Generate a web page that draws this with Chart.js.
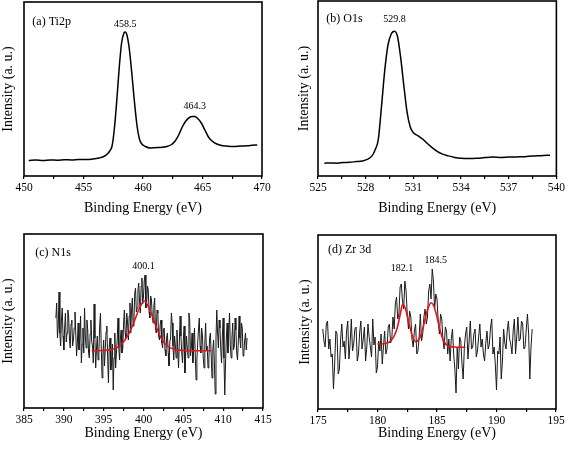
<!DOCTYPE html>
<html>
<head>
<meta charset="utf-8">
<script src="https://cdn.jsdelivr.net/npm/chart.js@4.4.0/dist/chart.umd.min.js"></script>
<style>
  html, body { margin: 0; padding: 0; background: #fff; }
  #wrap { position: relative; width: 567px; height: 450px; }
  #wrap canvas { position: absolute; }
</style>
</head>
<body>
<div id="wrap">
  <canvas id="chartA" width="283" height="225" style="left:0;top:0"></canvas>
  <canvas id="chartB" width="284" height="225" style="left:283px;top:0"></canvas>
  <canvas id="chartC" width="283" height="225" style="left:0;top:225px"></canvas>
  <canvas id="chartD" width="284" height="225" style="left:283px;top:225px"></canvas>
</div>
<script>
// (a) Ti2p spectrum
const tiEnergy = [450.4, 451.0, 451.6, 452.2, 452.8, 453.4, 454.0, 454.6, 455.2, 455.8, 456.3, 456.7, 457.0, 457.2, 457.4, 457.6, 457.8, 458.0, 458.2, 458.4, 458.5, 458.65, 458.85, 459.05, 459.25, 459.5, 459.7, 459.9, 460.2, 460.6, 461.0, 461.5, 462.0, 462.4, 462.7, 463.0, 463.3, 463.6, 463.9, 464.15, 464.35, 464.6, 464.9, 465.2, 465.5, 465.8, 466.2, 466.6, 467.0, 467.6, 468.2, 468.8, 469.2, 469.6];
const tiIntensity = [15.5, 16, 15.6, 16.1, 15.8, 16.3, 16, 16.5, 16.4, 17, 18, 19.5, 22, 25, 30, 48, 76, 108, 133, 143, 144, 141, 127, 104, 78, 50, 37, 32, 29.5, 28, 28.3, 28.6, 29.5, 31.5, 35, 41, 49, 55, 58.5, 59.5, 59.5, 57.5, 53, 46, 39, 35, 32, 30.5, 30, 29.5, 30, 30.3, 30.8, 31];

// (b) O1s spectrum
const oEnergy = [525.4, 525.8, 526.2, 526.6, 527.0, 527.4, 527.8, 528.1, 528.4, 528.6, 528.8, 529.0, 529.2, 529.4, 529.6, 529.8, 530.0, 530.2, 530.4, 530.6, 530.8, 531.0, 531.3, 531.6, 531.9, 532.2, 532.5, 532.8, 533.2, 533.6, 534.0, 534.5, 535.0, 535.5, 536.0, 536.5, 537.0, 537.5, 538.0, 538.5, 539.0, 539.6];
const oIntensity = [12.7, 13, 12.8, 13.4, 13.6, 14.3, 15, 16.5, 20, 26, 37, 70, 105, 130, 141, 144, 139, 118, 90, 64, 49, 43, 40, 36.5, 32, 28, 24.5, 22, 20, 18.5, 17.6, 17.3, 17.6, 18.3, 18.8, 18.5, 18.8, 19, 19.2, 19.8, 20.2, 20.7];

// (c) N1s raw data, 389.0 to 413.0 eV in 0.1 eV steps (one row per eV)
const nStart = 389.0, nStep = 0.1;
const nIntensity = [
  90, 105, 70, 82, 116, 75, 62, 88, 100, 72,
  58, 80, 95, 66, 75, 98, 92, 70, 60, 84,
  88, 62, 68, 80, 96, 74, 52, 66, 85, 58,
  70, 92, 45, 64, 80, 55, 100, 72, 60, 88,
  78, 56, 50, 74, 88, 66, 62, 45, 104, 70,
  40, 60, 72, 48, 55, 82, 95, 60, 30, 52,
  68, 42, 58, 76, 82, 50, 25, 62, 70, 38,
  45, 64, 18, 50, 75, 40, 55, 68, 90, 60,
  48, 70, 78, 55, 60, 85, 98, 75, 70, 95,
  85, 68, 92, 105, 75, 98, 110, 82, 88, 115,
  120, 96, 100, 118, 125, 108, 95, 122, 130, 104,
  112, 128, 133, 100, 105, 122, 118, 96, 90, 112,
  108, 92, 85, 102, 110, 80, 75, 98, 95, 72,
  68, 84, 88, 65, 60, 78, 80, 58, 52, 70,
  75, 55, 42, 66, 70, 95, 85, 62, 48, 72,
  62, 50, 78, 58, 40, 66, 92, 72, 55, 45,
  68, 82, 35, 55, 72, 60, 50, 95, 88, 52,
  60, 75, 45, 62, 80, 52, 28, 48, 65, 78,
  90, 62, 55, 80, 72, 50, 40, 66, 85, 58,
  62, 40, 48, 70, 75, 52, 30, 58, 68, 45,
  14, 70, 98, 75, 60, 88, 80, 58, 45, 72,
  90, 50, 13, 45, 70, 85, 55, 75, 95, 62,
  50, 70, 85, 58, 62, 90, 78, 55, 48, 66,
  92, 70, 60, 85, 80, 52, 55, 68, 75, 58,
  70];
// (c) N1s fitted peak
const nFitEnergy = [393.5, 395, 396, 397, 398, 398.5, 399, 399.5, 400.1, 400.7, 401.2, 401.7, 402.2, 403, 404, 405, 406, 408.5];
const nFitIntensity = [57.3, 57.5, 58.5, 62, 72, 80, 90, 100, 107, 100, 90, 79, 70, 62, 58.5, 57.5, 57.3, 57.3];

// (d) Zr 3d raw data, 175.4 to 193.0 eV in 0.1 eV steps
const zStart = 175.4, zStep = 0.1;
const zIntensity = [
  80, 68, 62, 85, 88, 60,
  70, 52, 55, 20, 45, 78, 75, 35, 40, 70,
  85, 62, 68, 50, 78, 88, 50, 66, 90, 58,
  65, 80, 82, 48, 55, 76, 88, 60, 70, 82,
  48, 62, 85, 72, 62, 52, 90, 64, 72, 36,
  42, 68, 58, 75, 45, 62, 78, 55, 60, 82,
  85, 66, 70, 92, 80, 105, 112, 90, 95, 122,
  125, 108, 100, 128, 118, 95, 80, 98, 92, 70,
  62, 78, 85, 55, 58, 72, 95, 68, 75, 92,
  100, 85, 92, 118, 125, 110, 140, 128, 100, 115,
  110, 88, 75, 95, 90, 70, 60, 82, 78, 55,
  70, 48, 70, 80, 55, 40, 16, 62, 40, 72,
  68, 45, 30, 62, 75, 82, 50, 68, 88, 60,
  62, 75, 80, 52, 58, 72, 85, 62, 70, 55,
  48, 66, 78, 60, 65, 82, 90, 55, 62, 45,
  19, 58, 55, 72, 30, 48, 80, 66, 60, 78,
  88, 70, 65, 55, 78, 90, 55, 72, 92, 68,
  70, 88, 85, 60, 62, 80, 95, 75, 30, 62,
  80];
// (d) Zr 3d fitted doublet
const zFitEnergy = [180.0, 180.5, 181.0, 181.4, 181.7, 182.0, 182.1, 182.3, 182.6, 182.9, 183.2, 183.5, 183.8, 184.1, 184.4, 184.5, 184.7, 185.0, 185.3, 185.6, 186.0, 186.5, 187.4];
const zFitIntensity = [65, 65.3, 67, 73, 83, 100, 104.7, 102, 88, 74, 67.3, 70, 80, 95, 105, 106.3, 104, 92, 77, 67, 63, 62, 61.7];

const serif = "'Liberation Serif', 'Times New Roman', serif";

function pairs(xs, ys) {
  return xs.map((x, i) => ({ x: x, y: ys[i] }));
}
function stepped(start, step, ys) {
  return ys.map((y, i) => ({ x: +(start + i * step).toFixed(2), y: y }));
}

// draws the closed frame and the in-plot labels
const framePlugin = {
  id: 'frame',
  afterDraw(chart, args, opts) {
    const { ctx, chartArea: a, scales } = chart;
    ctx.save();
    ctx.strokeStyle = '#000';
    ctx.lineWidth = 1.6;
    ctx.strokeRect(a.left, a.top, a.right - a.left, a.bottom - a.top);
    ctx.fillStyle = '#000';
    ctx.textBaseline = 'middle';
    (opts.labels || []).forEach(l => {
      ctx.font = l.size + 'px ' + serif;
      ctx.textAlign = l.align || 'center';
      ctx.fillText(l.text, scales.x.getPixelForValue(l.x), scales.y.getPixelForValue(l.y));
    });
    ctx.restore();
  }
};

function makePanel(id, cfg) {
  new Chart(document.getElementById(id), {
    type: 'line',
    data: { datasets: cfg.datasets },
    options: {
      responsive: false,
      animation: false,
      layout: { padding: { top: cfg.padTop, right: cfg.padRight, left: 0, bottom: 0 } },
      plugins: {
        legend: { display: false },
        tooltip: { enabled: false },
        frame: { labels: cfg.labels }
      },
      elements: { point: { radius: 0 } },
      scales: {
        x: {
          type: 'linear',
          min: cfg.xMin,
          max: cfg.xMax,
          afterFit: s => { s.height = cfg.xHeight; },
          ticks: {
            stepSize: cfg.minorStep,
            autoSkip: false,
            maxRotation: 0,
            padding: 2,
            color: '#000',
            font: { family: serif, size: 11.5 },
            callback: v => cfg.xLabels.includes(v) ? String(v) : ''
          },
          grid: { display: true, drawOnChartArea: false, drawTicks: true, tickLength: 3, color: '#000', lineWidth: 1.2 },
          border: { display: false },
          title: {
            display: true,
            text: 'Binding Energy (eV)',
            color: '#000',
            font: { family: serif, size: 14 },
            padding: { top: 0, bottom: 8 }
          }
        },
        y: {
          min: 0,
          max: 174,
          afterFit: s => { s.width = cfg.yWidth; },
          ticks: { display: false },
          grid: { display: false },
          border: { display: false },
          title: {
            display: true,
            text: 'Intensity (a. u.)',
            color: '#000',
            font: { family: serif, size: 14 },
            padding: { top: cfg.yTitlePad, bottom: 0 }
          }
        }
      }
    },
    plugins: [framePlugin]
  });
}

makePanel('chartA', {
  xMin: 450, xMax: 470, minorStep: 2.5, xLabels: [450, 455, 460, 465, 470],
  padTop: 2, padRight: 21, xHeight: 49, yWidth: 24, yTitlePad: 0,
  datasets: [{
    data: pairs(tiEnergy, tiIntensity),
    borderColor: '#000', borderWidth: 1.5, cubicInterpolationMode: 'monotone', fill: false
  }],
  labels: [
    { text: '(a) Ti2p', x: 450.7, y: 154, size: 12, align: 'left' },
    { text: '458.5', x: 458.5, y: 152, size: 10 },
    { text: '464.3', x: 464.35, y: 70, size: 10 }
  ]
});

makePanel('chartB', {
  xMin: 525, xMax: 540, minorStep: 1.5, xLabels: [525, 528, 531, 534, 537, 540],
  padTop: 1, padRight: 10, xHeight: 49, yWidth: 35, yTitlePad: 13,
  datasets: [{
    data: pairs(oEnergy, oIntensity),
    borderColor: '#000', borderWidth: 1.5, cubicInterpolationMode: 'monotone', fill: false
  }],
  labels: [
    { text: '(b) O1s', x: 525.52, y: 156, size: 12, align: 'left' },
    { text: '529.8', x: 529.81, y: 156, size: 10 }
  ]
});

makePanel('chartC', {
  xMin: 385, xMax: 415, minorStep: 2.5, xLabels: [385, 390, 395, 400, 405, 410, 415],
  padTop: 9, padRight: 20, xHeight: 42, yWidth: 24, yTitlePad: 0,
  datasets: [
    { data: pairs(nFitEnergy, nFitIntensity), borderColor: '#e3131b', borderWidth: 1.6, cubicInterpolationMode: 'monotone', fill: false, order: 0 },
    { data: stepped(nStart, nStep, nIntensity), borderColor: '#1a1a1a', borderWidth: 1, tension: 0, fill: false, order: 1 }
  ],
  labels: [
    { text: '(c) N1s', x: 386.4, y: 154.7, size: 12, align: 'left' },
    { text: '400.1', x: 400.0, y: 141.3, size: 10 }
  ]
});

makePanel('chartD', {
  xMin: 175, xMax: 195, minorStep: 2.5, xLabels: [175, 180, 185, 190, 195],
  padTop: 10, padRight: 11, xHeight: 41, yWidth: 35, yTitlePad: 13.6,
  datasets: [
    { data: pairs(zFitEnergy, zFitIntensity), borderColor: '#e3131b', borderWidth: 1.6, cubicInterpolationMode: 'monotone', fill: false, order: 0 },
    { data: stepped(zStart, zStep, zIntensity), borderColor: '#1a1a1a', borderWidth: 1, tension: 0, fill: false, order: 1 }
  ],
  labels: [
    { text: '(d) Zr 3d', x: 175.84, y: 159, size: 12, align: 'left' },
    { text: '182.1', x: 182.05, y: 140.7, size: 10 },
    { text: '184.5', x: 184.9, y: 149, size: 10 }
  ]
});
</script>
</body>
</html>
